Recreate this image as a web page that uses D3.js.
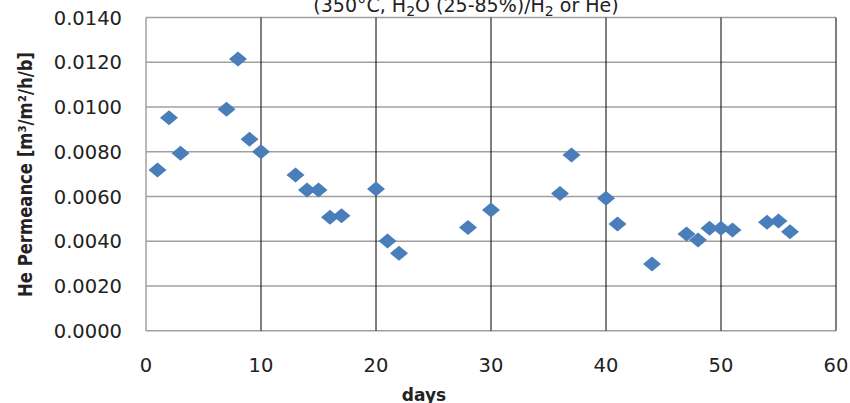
<!DOCTYPE html>
<html>
<head>
<meta charset="utf-8">
<script src="https://cdn.jsdelivr.net/npm/d3@7"></script>
<style>
  body { margin: 0; background: #fff; }
  svg { display: block; }
</style>
</head>
<body>
<svg id="chart"></svg>
<script>
// days and He permeance readings
const days = [1, 2, 3, 7, 8, 9, 10, 13, 14, 15, 16, 17, 20, 21, 22, 28, 30,
  36, 37, 40, 41, 44, 47, 48, 49, 50, 51, 54, 55, 56];
const permeance = [0.00719, 0.00952, 0.00793, 0.0099, 0.01215, 0.00856, 0.0080,
  0.00696, 0.00629, 0.00629, 0.00507, 0.00514, 0.00634, 0.00401, 0.00346,
  0.00462, 0.0054, 0.00614, 0.00786, 0.00592, 0.00477, 0.00298, 0.00432,
  0.00406, 0.00458, 0.00458, 0.0045, 0.00485, 0.0049, 0.00443];
const xTicks = [0, 10, 20, 30, 40, 50, 60];
const yTicks = [0, 0.002, 0.004, 0.006, 0.008, 0.010, 0.012, 0.014];

const width = 850;
const height = 403;

const svg = d3.select("#chart")
  .attr("width", width)
  .attr("height", height);

// plot area
const x = d3.scaleLinear().domain([0, 60]).range([146, 836]);
const y = d3.scaleLinear().domain([0, 0.014]).range([330.7, 17.6]);

const font = "DejaVu Sans, sans-serif";

// horizontal gridlines (gray)
svg.append("g")
  .selectAll("line")
  .data(yTicks)
  .enter().append("line")
  .attr("x1", x(0))
  .attr("x2", x(60))
  .attr("y1", d => y(d))
  .attr("y2", d => y(d))
  .attr("stroke", "#a0a0a0")
  .attr("stroke-width", 1.5);

// vertical gridlines (black)
svg.append("g")
  .selectAll("line")
  .data(xTicks.slice(1))
  .enter().append("line")
  .attr("x1", d => x(d))
  .attr("x2", d => x(d))
  .attr("y1", y(0))
  .attr("y2", y(0.014))
  .attr("stroke", "#000")
  .attr("stroke-width", 1);

// left axis line
svg.append("line")
  .attr("x1", x(0)).attr("x2", x(0))
  .attr("y1", y(0)).attr("y2", y(0.014))
  .attr("stroke", "#a0a0a0")
  .attr("stroke-width", 1.5);

// y tick labels
svg.append("g")
  .selectAll("text")
  .data(yTicks)
  .enter().append("text")
  .attr("x", 122)
  .attr("y", d => y(d))
  .attr("dy", "0.36em")
  .attr("text-anchor", "end")
  .attr("font-family", font)
  .attr("font-size", 19.5)
  .attr("fill", "#222")
  .text(d => d.toFixed(4));

// x tick labels
svg.append("g")
  .selectAll("text")
  .data(xTicks)
  .enter().append("text")
  .attr("x", d => x(d))
  .attr("y", 372)
  .attr("text-anchor", "middle")
  .attr("font-family", font)
  .attr("font-size", 19.5)
  .attr("fill", "#222")
  .text(d => d);

// points as diamonds
const pts = days.map((d, i) => ({ day: d, value: permeance[i] }));
svg.append("g")
  .selectAll("path")
  .data(pts)
  .enter().append("path")
  .attr("transform", d => `translate(${x(d.day)},${y(d.value)})`)
  .attr("d", "M0,-7.5L9,0L0,7.5L-9,0Z")
  .attr("fill", "#4a7ebb");

// title (top is cut off in the original)
const title = svg.append("text")
  .attr("x", 466)
  .attr("y", 12)
  .attr("text-anchor", "middle")
  .attr("font-family", font)
  .attr("font-size", 19)
  .attr("fill", "#222");
title.append("tspan").text("(350°C, H");
title.append("tspan").attr("dy", 4).attr("font-size", 14).text("2");
title.append("tspan").attr("dy", -4).text("O (25-85%)/H");
title.append("tspan").attr("dy", 4).attr("font-size", 14).text("2");
title.append("tspan").attr("dy", -4).text(" or He)");

// x axis title
svg.append("text")
  .attr("x", 424)
  .attr("y", 401)
  .attr("text-anchor", "middle")
  .attr("font-family", font)
  .attr("font-weight", "bold")
  .attr("font-size", 17)
  .attr("fill", "#222")
  .text("days");

// y axis title
const yl = svg.append("text")
  .attr("transform", "translate(32,174.5) rotate(-90)")
  .attr("text-anchor", "middle")
  .attr("font-family", font)
  .attr("font-weight", "bold")
  .attr("font-size", 19)
  .attr("textLength", 245)
  .attr("lengthAdjust", "spacingAndGlyphs")
  .attr("fill", "#222");
yl.append("tspan").text("He Permeance [m³/m²/h/b]");
</script>
</body>
</html>
